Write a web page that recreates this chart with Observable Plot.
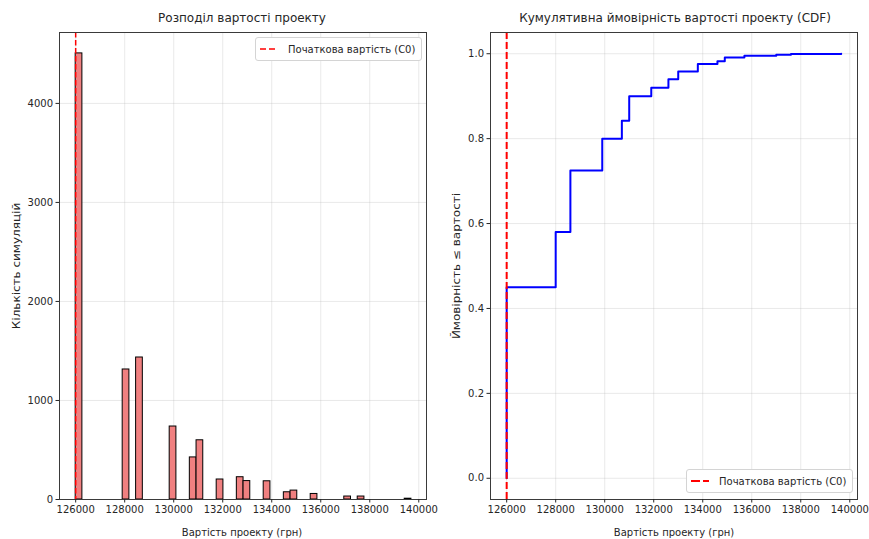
<!DOCTYPE html>
<html>
<head>
<meta charset="utf-8">
<script src="https://cdn.jsdelivr.net/npm/d3@7"></script>
<script src="https://cdn.jsdelivr.net/npm/@observablehq/plot@0.6"></script>
<style>
  body { margin: 0; background: #fff; font-family: "DejaVu Sans", sans-serif; }
  #wrap { position: relative; width: 869px; height: 539px; overflow: hidden; background: #fff; }
  .panel { position: absolute; top: 0; }
  .txt { position: absolute; white-space: nowrap; color: #262626; transform: translate(-50%, -50%); }
  .title { font-size: 12px; }
  .lab { font-size: 10px; }
  .rot { transform: translate(-50%, -50%) rotate(-90deg) scaleX(1.2); }
  .legend { position: absolute; box-sizing: border-box; background: #fff; border: 1px solid #d4d4d4;
            border-radius: 3px; font-size: 10px; color: #262626; display: flex; align-items: center;
            padding-left: 3px; white-space: nowrap; }
  .legend svg { margin-right: 9px; }
</style>
</head>
<body>
<div id="wrap"></div>
<script>
// ---- data ----
const initialCost = 126000;                       // C0
const costValues  = [126000, 128000, 128600, 129900, 130700, 131000, 131900, 132600,
                     133000, 133800, 134600, 134900, 135700, 137000, 137600, 139600];
const simCounts   = [4505, 1313, 1434, 737, 425, 598, 202, 225,
                     186, 184, 73, 90, 56, 30, 30, 8];
const histRange   = [126000, 139700];
const binCount    = 50;

const cdfCost = [126000, 126000, 128000, 128600, 129900, 130700, 131000, 131900, 132600,
                 133000, 133800, 134600, 134900, 135700, 137000, 137600, 139650];
const cdfProb = [0, 0.45, 0.58, 0.725, 0.80, 0.842, 0.90, 0.92, 0.94,
                 0.958, 0.976, 0.982, 0.991, 0.995, 0.9975, 0.9995, 1.0];

const xTicks     = [126000, 128000, 130000, 132000, 134000, 136000, 138000, 140000];
const countTicks = [0, 1000, 2000, 3000, 4000];
const probTicks  = [0, 0.2, 0.4, 0.6, 0.8, 1.0];

const texts = {
  title1: "Розподіл вартості проекту",
  title2: "Кумулятивна ймовірність вартості проекту (CDF)",
  xLabel: "Вартість проекту (грн)",
  yLabel1: "Кількість симуляцій",
  yLabel2: "Ймовірність ≤ вартості",
  legend: "Початкова вартість (C0)"
};

// ---- tables built from the arrays ----
const binWidth = (histRange[1] - histRange[0]) / binCount;
const hist = costValues.map((v, i) => {
  const b = Math.min(binCount - 1, Math.floor((v - histRange[0]) / binWidth));
  return { x1: histRange[0] + b * binWidth, x2: histRange[0] + (b + 1) * binWidth, count: simCounts[i] };
});
const cdf = cdfCost.map((c, i) => ({ cost: c, p: cdfProb[i] }));

const xDomain = [125340, 140315];
const gridStyle = { stroke: "#b0b0b0", strokeOpacity: 0.35, strokeWidth: 0.8 };
const common = {
  height: 539, marginTop: 32, marginBottom: 40,
  style: { fontFamily: "DejaVu Sans, sans-serif", fontSize: "10px", color: "#262626", background: "transparent" }
};

const left = Plot.plot({
  ...common,
  width: 440, marginLeft: 59, marginRight: 14,
  x: { domain: xDomain },
  y: { domain: [0, 4716] },
  marks: [
    Plot.gridX(xTicks, gridStyle),
    Plot.gridY(countTicks, gridStyle),
    Plot.rectY(hist, { x1: "x1", x2: "x2", y: "count", fill: "#F08080", stroke: "#000", strokeWidth: 1, inset: 0 }),
    Plot.ruleX([initialCost], { stroke: "#ff0000", strokeWidth: 1.5, strokeDasharray: "5.5,2.5" }),
    Plot.frame({ stroke: "#3a3a3a", strokeWidth: 1 }),
    Plot.axisX({ ticks: xTicks, tickFormat: d => String(d), tickSize: 3.5, tickPadding: 3, label: null }),
    Plot.axisY({ ticks: countTicks, tickFormat: d => String(d), tickSize: 3.5, tickPadding: 3, label: null })
  ]
});

const right = Plot.plot({
  ...common,
  width: 439, marginLeft: 60, marginRight: 12,
  x: { domain: xDomain },
  y: { domain: [-0.05, 1.05] },
  marks: [
    Plot.gridX(xTicks, gridStyle),
    Plot.gridY(probTicks, gridStyle),
    Plot.line(cdf, { x: "cost", y: "p", curve: "step-after", stroke: "#0000ff", strokeWidth: 2 }),
    Plot.ruleX([initialCost], { stroke: "#ff0000", strokeWidth: 2, strokeDasharray: "7,3" }),
    Plot.frame({ stroke: "#3a3a3a", strokeWidth: 1 }),
    Plot.axisX({ ticks: xTicks, tickFormat: d => String(d), tickSize: 3.5, tickPadding: 3, label: null }),
    Plot.axisY({ ticks: probTicks, tickFormat: d3.format(".1f"), tickSize: 3.5, tickPadding: 3, label: null })
  ]
});

const wrap = document.getElementById("wrap");
left.classList.add("panel");  left.style.left = "0px";
right.classList.add("panel"); right.style.left = "430px";
wrap.appendChild(left);
wrap.appendChild(right);

function addText(str, cls, x, y) {
  const d = document.createElement("div");
  d.className = "txt " + cls;
  d.textContent = str;
  d.style.left = x + "px";
  d.style.top = y + "px";
  wrap.appendChild(d);
}
addText(texts.title1, "title", 242, 18);
addText(texts.title2, "title", 675, 18);
addText(texts.xLabel, "lab", 242, 532);
addText(texts.xLabel, "lab", 674, 532);
addText(texts.yLabel1, "lab rot", 16, 266);
addText(texts.yLabel2, "lab rot", 456, 266);

function addLegend(x, y, w, h, lw, dash) {
  const d = document.createElement("div");
  d.className = "legend";
  Object.assign(d.style, { left: x + "px", top: y + "px", width: w + "px", height: h + "px" });
  d.innerHTML = '<svg width="20" height="6"><line x1="1" y1="3" x2="19" y2="3" stroke="#ff0000" stroke-width="' + lw +
    '" stroke-dasharray="' + dash + '"/></svg>';
  const s = document.createElement("span");
  s.textContent = texts.legend;
  d.appendChild(s);
  wrap.appendChild(d);
}
addLegend(255, 37, 167, 24, 1.6, "6,3");
addLegend(686, 469, 167, 24, 2, "9,3");
</script>
</body>
</html>
